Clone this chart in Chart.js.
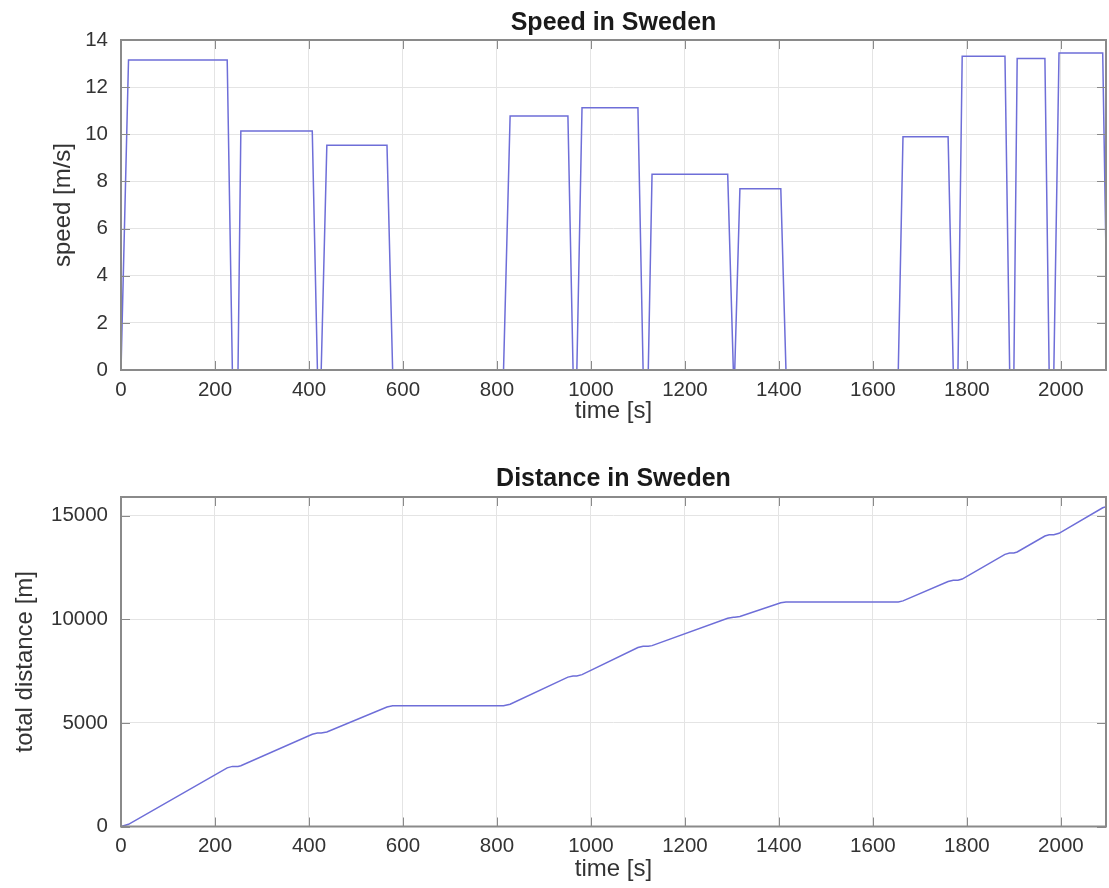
<!DOCTYPE html>
<html>
<head>
<meta charset="utf-8">
<title>Speed and distance in Sweden</title>
<script src="https://cdn.jsdelivr.net/npm/chart.js@4.4.1/dist/chart.umd.min.js"></script>
<style>
  html, body { margin: 0; padding: 0; background: #fff; }
  .panel { position: absolute; left: 0; width: 1109px; height: 444px; }
  #speedPanel { top: 0; }
  #distPanel { top: 444px; }
</style>
</head>
<body>
<div class="panel" id="speedPanel"><canvas id="speedChart" width="1109" height="444"></canvas></div>
<div class="panel" id="distPanel"><canvas id="distChart" width="1109" height="444"></canvas></div>
<script>
// breakpoints of the drive
var timeS = [0, 16, 226, 237, 249, 255, 407, 418, 426, 438, 566, 578, 814, 828, 951, 962, 970, 981,
             1100, 1111, 1122, 1130, 1291, 1303, 1306, 1317, 1404, 1415, 1654, 1664, 1760, 1771,
             1781, 1790, 1881, 1891, 1900, 1907, 1966, 1975, 1985, 1996, 2089, 2100];
var speedMs = [0, 13.15, 13.15, 0, 0, 10.14, 10.14, 0, 0, 9.53, 9.53, 0, 0, 10.78, 10.78, 0, 0, 11.13,
               11.13, 0, 0, 8.3, 8.3, 0, 0, 7.69, 7.69, 0, 0, 9.9, 9.9, 0,
               0, 13.31, 13.31, 0, 0, 13.22, 13.22, 0, 0, 13.45, 13.45, 0];
var distanceM = [0, 104, 2830, 2901, 2901, 2931, 4453, 4508, 4508, 4564, 5768, 5824, 5824, 5899, 7208, 7266, 7266, 7327,
                 8634, 8694, 8694, 8727, 10046, 10095, 10095, 10137, 10797, 10838, 10838, 10887, 11825, 11880,
                 11880, 11939, 13134, 13200, 13200, 13246, 14016, 14074, 14074, 14147, 15381, 15455];

var timeTicks = [0, 200, 400, 600, 800, 1000, 1200, 1400, 1600, 1800, 2000];
var speedTicks = [0, 2, 4, 6, 8, 10, 12, 14];
var distanceTicks = [0, 5000, 10000, 15000];

var timeMax = 2096;
var speedMax = 14;
var distanceMax = 15900;

var fontFamily = '"Liberation Sans", Arial, Helvetica, sans-serif';
var textColor = '#333333';
var lineColor = '#6e6ed8';

// box round the plot area with inward tick marks on all four sides
var axesBox = {
    id: 'axesBox',
    afterDatasetsDraw: function(chart) {
        var a = chart.chartArea;
        var ctx = chart.ctx;
        var xs = chart.scales.x;
        var ys = chart.scales.y;
        ctx.save();
        ctx.strokeStyle = '#8a8a8a';
        ctx.lineWidth = 1;
        ctx.beginPath();
        xs.ticks.forEach(function(t) {
            var px = Math.round(xs.getPixelForValue(t.value)) + 0.5;
            ctx.moveTo(px, a.bottom);
            ctx.lineTo(px, a.bottom - 9);
            ctx.moveTo(px, a.top);
            ctx.lineTo(px, a.top + 9);
        });
        ys.ticks.forEach(function(t) {
            var py = Math.round(ys.getPixelForValue(t.value)) + 0.5;
            ctx.moveTo(a.left, py);
            ctx.lineTo(a.left + 9, py);
            ctx.moveTo(a.right, py);
            ctx.lineTo(a.right - 9, py);
        });
        ctx.stroke();
        ctx.lineWidth = 2;
        ctx.strokeRect(a.left, a.top, a.right - a.left, a.bottom - a.top);
        ctx.restore();
    }
};

function points(xs, ys) {
    var out = [];
    for (var i = 0; i < xs.length; i++) {
        out.push({ x: xs[i], y: ys[i] });
    }
    return out;
}

function fixedTicks(list) {
    return function(scale) {
        scale.ticks = list.map(function(v) { return { value: v }; });
    };
}

function makeChart(canvasId, s) {
    return new Chart(document.getElementById(canvasId).getContext('2d'), {
        type: 'line',
        data: {
            datasets: [{
                data: points(timeS, s.values),
                borderColor: lineColor,
                borderWidth: 1.5,
                pointRadius: 0,
                tension: 0,
                fill: false
            }]
        },
        options: {
            responsive: false,
            animation: false,
            devicePixelRatio: 1,
            layout: { padding: { left: 0, right: 3, top: 0, bottom: 0 } },
            plugins: {
                legend: { display: false },
                tooltip: { enabled: false },
                title: {
                    display: true,
                    text: s.title,
                    fullSize: false,   // centre over the plot area only
                    color: '#1a1a1a',
                    font: { family: fontFamily, size: 25, weight: 'bold' },
                    padding: { top: s.titleTop, bottom: s.titleBottom }
                }
            },
            scales: {
                x: {
                    type: 'linear',
                    min: 0,
                    max: timeMax,
                    afterBuildTicks: fixedTicks(timeTicks),
                    afterFit: function(scale) { scale.height = s.xHeight; },
                    grid: { color: '#e4e4e4', drawTicks: false },
                    border: { display: false },
                    ticks: {
                        color: textColor,
                        font: { family: fontFamily, size: 20.5 },
                        padding: 7.7,
                        maxRotation: 0,
                        autoSkip: false,
                        callback: function(v) { return String(v); }
                    },
                    title: {
                        display: true,
                        text: 'time [s]',
                        color: textColor,
                        font: { family: fontFamily, size: 24 },
                        padding: { top: 0, bottom: s.xTitleBottom }
                    }
                },
                y: {
                    type: 'linear',
                    min: 0,
                    max: s.max,
                    afterBuildTicks: fixedTicks(s.ticks),
                    afterFit: function(scale) { scale.width = 121; },
                    grid: { color: '#e4e4e4', drawTicks: false },
                    border: { display: false },
                    ticks: {
                        color: textColor,
                        font: { family: fontFamily, size: 20.5 },
                        padding: 13,
                        callback: function(v) { return String(v); }
                    },
                    title: {
                        display: true,
                        text: s.yTitle,
                        color: textColor,
                        font: { family: fontFamily, size: 24 },
                        padding: { top: s.yTitlePad, bottom: 0 }
                    }
                }
            }
        },
        plugins: [axesBox]
    });
}

var speedChart = makeChart('speedChart', {
    title: 'Speed in Sweden',
    yTitle: 'speed [m/s]',
    values: speedMs,
    ticks: speedTicks,
    max: speedMax,
    titleTop: 8.5,
    titleBottom: 1.5,
    xHeight: 74,
    xTitleBottom: 18.6,
    yTitlePad: 48.6
});

var distChart = makeChart('distChart', {
    title: 'Distance in Sweden',
    yTitle: 'total distance [m]',
    values: distanceM,
    ticks: distanceTicks,
    max: distanceMax,
    titleTop: 20,
    titleBottom: 3,
    xHeight: 61.5,
    xTitleBottom: 4.6,
    yTitlePad: 10.6
});
</script>
</body>
</html>
